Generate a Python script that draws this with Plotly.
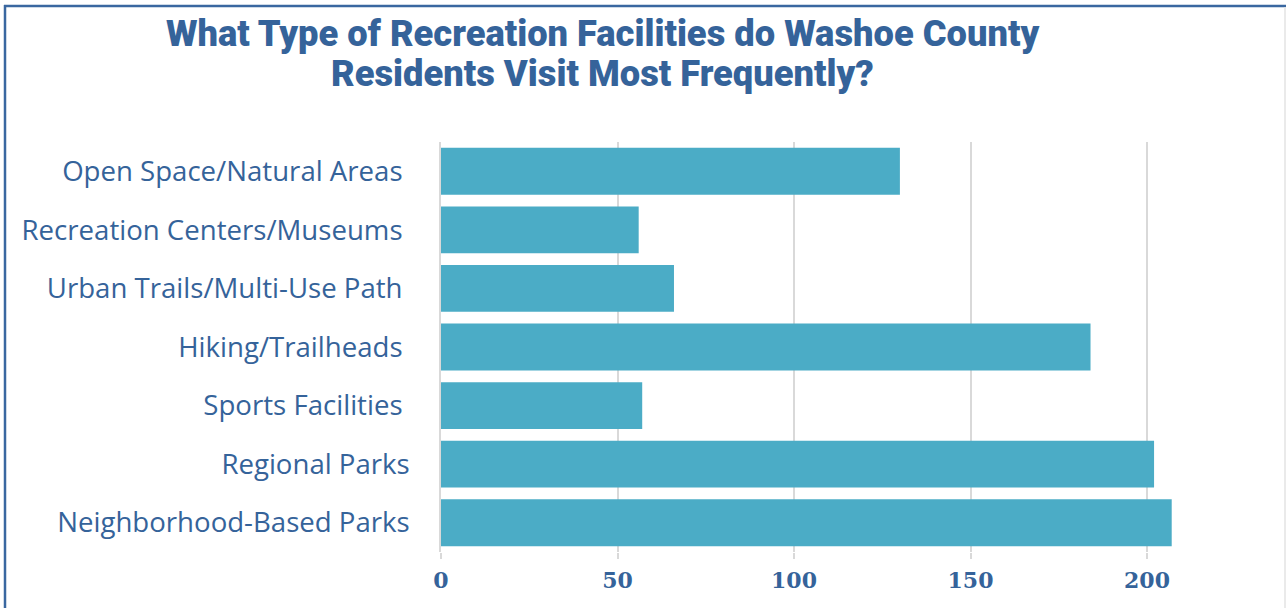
import plotly.graph_objects as go

categories = [
    "Neighborhood-Based Parks",
    "Regional Parks",
    "Sports Facilities\u00a0",
    "Hiking/Trailheads\u00a0",
    "Urban Trails/Multi-Use Path\u00a0",
    "Recreation Centers/Museums\u00a0",
    "Open Space/Natural Areas\u00a0",
]
values = [207, 202, 57, 184, 66, 56, 130]
tick_values = [0, 50, 100, 150, 200]
tick_labels = ["0", "50", "100", "150", "200"]
title_lines = [
    "What Type of Recreation Facilities do Washoe County",
    "Residents Visit Most Frequently?",
]

BLUE = "#35639A"
BAR = "#4BACC6"
GRID = "#D9D9D9"

W, H = 1286, 608
L, R, T, B = 441, 1, 142, 56
pw = W - L - R
ph = H - T - B

def px_x(p):
    return (p - L) / pw

def px_y(p):
    return (H - B - p) / ph

fig = go.Figure(go.Bar(
    y=categories, x=values, orientation="h",
    marker=dict(color=BAR, line=dict(width=0)),
    hoverinfo="skip",
))

annotations = []
for line, ypx in zip(title_lines, [33, 73]):
    annotations.append(dict(
        text=line, xref="paper", yref="paper",
        x=px_x(602), y=px_y(ypx), xanchor="center", yanchor="middle",
        showarrow=False,
        font=dict(family="Roboto", size=36.3, color=BLUE, weight=900),
    ))

fig.update_layout(
    width=W, height=H,
    margin=dict(l=L, r=R, t=T, b=B),
    paper_bgcolor="white", plot_bgcolor="white",
    bargap=0.2,
    showlegend=False,
    annotations=annotations,
    xaxis=dict(
        range=[0, (W - R - L) / 3.53],
        tickvals=tick_values, ticktext=tick_labels,
        showgrid=True, gridcolor=GRID, gridwidth=1.5,
        zeroline=False, showline=False,
        ticks="outside", ticklen=6, tickcolor=GRID, tickwidth=1.5,
        tickfont=dict(family="DejaVu Serif", size=22, color=BLUE, weight="bold"),
        ticklabelstandoff=3,
        fixedrange=True,
    ),
    yaxis=dict(
        showgrid=False, zeroline=False,
        showline=True, linecolor=GRID, linewidth=1.5,
        ticks="",
        tickfont=dict(family="Open Sans", size=27.6, color=BLUE),
        ticklabelstandoff=24,
        fixedrange=True,
    ),
    shapes=[
        dict(type="line", xref="paper", yref="paper",
             x0=px_x(5), x1=px_x(5), y0=px_y(5), y1=px_y(620),
             line=dict(color="#3A67A0", width=2.5)),
        dict(type="line", xref="paper", yref="paper",
             x0=px_x(4), x1=px_x(1290), y0=px_y(6), y1=px_y(6),
             line=dict(color="#3A67A0", width=2.5)),
        dict(type="line", xref="paper", yref="paper",
             x0=px_x(1285), x1=px_x(1285), y0=px_y(7), y1=px_y(620),
             line=dict(color="#E3E3E3", width=1.5)),
    ],
)

fig.write_html(
    "out.html",
    config={"displayModeBar": False},
    post_script="document.body.style.margin='0';document.body.style.overflow='hidden';",
)
